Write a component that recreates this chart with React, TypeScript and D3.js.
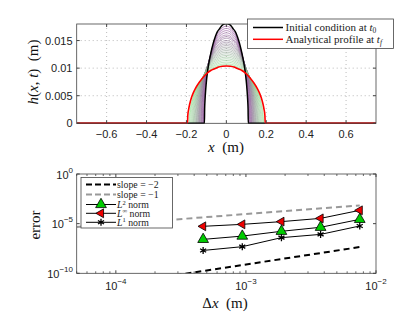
import React, { useRef, useEffect } from 'react';
import * as d3 from 'd3';

// ---- top panel: spreading profiles ----
// normalised profile shape (position / half-width, height / peak)
const shapeS = [-1, -0.99, -0.97, -0.94, -0.9, -0.85, -0.8, -0.7, -0.6, -0.5, -0.4, -0.3, -0.2, -0.1, 0,
  0.1, 0.2, 0.3, 0.4, 0.5, 0.6, 0.7, 0.8, 0.85, 0.9, 0.94, 0.97, 0.99, 1];
const shapeH = [0, 0.14, 0.24, 0.34, 0.44, 0.53, 0.6, 0.71, 0.8, 0.87, 0.92, 0.95, 0.98, 0.995, 1,
  0.995, 0.98, 0.95, 0.92, 0.87, 0.8, 0.71, 0.6, 0.53, 0.44, 0.34, 0.24, 0.14, 0];

const initialPeak = 0.0181;
const initialHalfWidth = 0.11;
const finalPeak = 0.0104;
const finalHalfWidth = 0.195;

// intermediate time steps
const stepPeaks = [0.0176, 0.0172, 0.0168, 0.0164, 0.016, 0.0157, 0.0154, 0.015, 0.0147, 0.0144, 0.0141,
  0.0138, 0.0135, 0.0132, 0.0129, 0.0126, 0.0123, 0.012, 0.0117, 0.0114, 0.0111, 0.0108, 0.0106];
const stepHalfWidths = [0.1125, 0.1151, 0.1179, 0.1207, 0.1238, 0.1261, 0.1286, 0.132, 0.1347, 0.1375, 0.1404,
  0.1435, 0.1467, 0.15, 0.1535, 0.1571, 0.161, 0.165, 0.1692, 0.1737, 0.1784, 0.1833, 0.1868];

const topXTicks = [-0.6, -0.4, -0.2, 0, 0.2, 0.4, 0.6];
const topYTicks = [0, 0.005, 0.01, 0.015];

// ---- bottom panel: convergence ----
const dx = [4.6875e-4, 9.375e-4, 1.875e-3, 3.75e-3, 7.5e-3];
const errLinf = [5.4e-6, 8.5e-6, 1.6e-5, 3.4e-5, 2.2e-4];
const errL2 = [2.6e-7, 5.6e-7, 1.7e-6, 4.3e-6, 2.7e-5];
const errL1 = [2.0e-8, 4.8e-8, 3.9e-7, 8.3e-7, 5.8e-6];
const refDx = [5e-5, 7.5e-3];
const refSlope2 = [1.9e-12, 4.4e-8];
const refSlope1 = [4.6e-6, 6.9e-4];
const botXTicks = [1e-4, 1e-3, 1e-2];
const botXTickExp = ['\u22124', '\u22123', '\u22122'];
const botYTicks = [1, 1e-5, 1e-10];
const botYTickExp = ['0', '\u22125', '\u221210'];

const W = 415;
const H = 318;
const serif = "'Liberation Serif', 'DejaVu Serif', serif";
const sans = "'Liberation Sans', Arial, sans-serif";

const App = () => {
  const ref = useRef(null);

  useEffect(() => {
    const svg = d3.select(ref.current);
    svg.selectAll('*').remove();

    // ================= top panel =================
    const x1 = d3.scaleLinear().domain([-0.75, 0.75]).range([76.7, 376]);
    const y1 = d3.scaleLinear().domain([0, 0.018]).range([123.3, 24]);
    const top = svg.append('g');

    svg.append('defs').append('clipPath').attr('id', 'clipTop')
      .append('rect').attr('x', 76.7).attr('y', 24).attr('width', 299.3).attr('height', 100);
    svg.select('defs').append('clipPath').attr('id', 'clipBot')
      .append('rect').attr('x', 76.7).attr('y', 174).attr('width', 299.3).attr('height', 99.3);

    top.append('rect').attr('x', 76.7).attr('y', 24).attr('width', 299.3).attr('height', 99.3)
      .attr('fill', '#fff');

    // dotted grid
    top.selectAll('.gx').data(topXTicks).enter().append('line')
      .attr('x1', (d) => x1(d)).attr('x2', (d) => x1(d)).attr('y1', 24).attr('y2', 123.3)
      .attr('stroke', '#aaa').attr('stroke-width', 0.8).attr('stroke-dasharray', '1,3');
    top.selectAll('.gy').data(topYTicks.slice(1)).enter().append('line')
      .attr('x1', 76.7).attr('x2', 376).attr('y1', (d) => y1(d)).attr('y2', (d) => y1(d))
      .attr('stroke', '#aaa').attr('stroke-width', 0.8).attr('stroke-dasharray', '1,3');

    const profile = (peak, hw, withBase) => {
      const pts = shapeS.map((s, i) => [s * hw, shapeH[i] * peak]);
      return withBase ? [[-0.75, 0], ...pts, [0.75, 0]] : pts;
    };
    const line1 = d3.line().x((d) => x1(d[0])).y((d) => y1(d[1])).curve(d3.curveMonotoneX);

    const curves = top.append('g').attr('clip-path', 'url(#clipTop)');
    const col = d3.interpolateRgb('#8a3a96', '#8ee08e');
    stepPeaks.forEach((p, i) => {
      curves.append('path').attr('d', line1(profile(p, stepHalfWidths[i], false)))
        .attr('fill', 'none').attr('stroke', col(i / (stepPeaks.length - 1)))
        .attr('stroke-opacity', 0.7).attr('stroke-width', 0.8);
    });
    curves.append('path').attr('d', line1(profile(initialPeak, initialHalfWidth, true)))
      .attr('fill', 'none').attr('stroke', '#000').attr('stroke-width', 1.5);
    curves.append('path').attr('d', line1(profile(finalPeak, finalHalfWidth, true)))
      .attr('fill', 'none').attr('stroke', '#f00').attr('stroke-width', 1.6);

    // box and ticks
    top.append('rect').attr('x', 76.7).attr('y', 24).attr('width', 299.3).attr('height', 99.3)
      .attr('fill', 'none').attr('stroke', '#444').attr('stroke-width', 0.8);
    topXTicks.forEach((t) => {
      top.append('line').attr('x1', x1(t)).attr('x2', x1(t)).attr('y1', 123.3).attr('y2', 120.3).attr('stroke', '#444');
      top.append('line').attr('x1', x1(t)).attr('x2', x1(t)).attr('y1', 24).attr('y2', 27).attr('stroke', '#444');
      top.append('text').attr('x', x1(t)).attr('y', 138).attr('text-anchor', 'middle')
        .attr('font-family', sans).attr('font-size', 11).attr('fill', '#222')
        .text(t === 0 ? '0' : d3.format('.1f')(t).replace('-', '\u2212'));
    });
    topYTicks.forEach((t) => {
      top.append('line').attr('x1', 76.7).attr('x2', 79.7).attr('y1', y1(t)).attr('y2', y1(t)).attr('stroke', '#444');
      top.append('line').attr('x1', 376).attr('x2', 373).attr('y1', y1(t)).attr('y2', y1(t)).attr('stroke', '#444');
      top.append('text').attr('x', 72.5).attr('y', y1(t) + 4).attr('text-anchor', 'end')
        .attr('font-family', sans).attr('font-size', 11).attr('fill', '#222')
        .text(t === 0 ? '0' : String(t));
    });

    // axis labels
    const yl = top.append('text').attr('transform', 'translate(38,72) rotate(-90)')
      .attr('text-anchor', 'middle').attr('font-family', serif).attr('font-size', 15).attr('fill', '#111');
    yl.append('tspan').attr('font-style', 'italic').text('h');
    yl.append('tspan').text('(');
    yl.append('tspan').attr('font-style', 'italic').text('x');
    yl.append('tspan').text(', ');
    yl.append('tspan').attr('font-style', 'italic').text('t');
    yl.append('tspan').text(')\u2002(m)');
    const xl = top.append('text').attr('x', 226).attr('y', 152).attr('text-anchor', 'middle')
      .attr('font-family', serif).attr('font-size', 15).attr('fill', '#111');
    xl.append('tspan').attr('font-style', 'italic').text('x');
    xl.append('tspan').text('\u2002(m)');

    // legend
    const lg = top.append('g');
    lg.append('rect').attr('x', 247.5).attr('y', 19).attr('width', 146).attr('height', 29.5)
      .attr('fill', '#fff').attr('stroke', '#444').attr('stroke-width', 0.8);
    [['#000', 'Initial condition at ', '0'], ['#f00', 'Analytical profile at ', 'f']].forEach((r, i) => {
      const yy = 27.5 + i * 11.8;
      lg.append('line').attr('x1', 253).attr('x2', 283).attr('y1', yy).attr('y2', yy)
        .attr('stroke', r[0]).attr('stroke-width', 1.5);
      const tx = lg.append('text').attr('x', 285.5).attr('y', yy + 3.6)
        .attr('font-family', serif).attr('font-size', 11).attr('fill', '#222');
      tx.append('tspan').text(r[1]);
      tx.append('tspan').attr('font-style', 'italic').text('t');
      tx.append('tspan').attr('font-size', 7.5).attr('dy', 2).attr('font-style', r[2] === 'f' ? 'italic' : 'normal').text(r[2]);
    });

    // ================= bottom panel =================
    const x2 = d3.scaleLog().domain([5e-5, 1e-2]).range([76.7, 376]);
    const y2 = d3.scaleLog().domain([1e-10, 1]).range([273.3, 174]);
    const bot = svg.append('g');
    const plot = bot.append('g').attr('clip-path', 'url(#clipBot)');
    const line2 = d3.line().x((d) => x2(d[0])).y((d) => y2(d[1]));

    plot.append('path').attr('d', line2(refDx.map((d, i) => [d, refSlope2[i]])))
      .attr('fill', 'none').attr('stroke', '#000').attr('stroke-width', 2).attr('stroke-dasharray', '6,4');
    plot.append('path').attr('d', line2(refDx.map((d, i) => [d, refSlope1[i]])))
      .attr('fill', 'none').attr('stroke', '#999').attr('stroke-width', 2).attr('stroke-dasharray', '6,4');

    const series = [
      { v: errLinf, sym: d3.symbolTriangle, rot: -90, fill: '#e00', size: 34 },
      { v: errL2, sym: d3.symbolTriangle, rot: 0, fill: '#0c0', size: 50 },
      { v: errL1, sym: d3.symbolAsterisk, rot: 0, fill: 'none', size: 34 },
    ];
    series.forEach((s) => {
      const pts = dx.map((d, i) => [d, s.v[i]]);
      plot.append('path').attr('d', line2(pts)).attr('fill', 'none').attr('stroke', '#000').attr('stroke-width', 1);
      plot.selectAll(null).data(pts).enter().append('path')
        .attr('d', d3.symbol().type(s.sym).size(s.size))
        .attr('transform', (d) => `translate(${x2(d[0])},${y2(d[1])}) rotate(${s.rot})`)
        .attr('fill', s.fill).attr('stroke', '#000').attr('stroke-width', s.fill === 'none' ? 1.3 : 0.8);
    });

    bot.append('rect').attr('x', 76.7).attr('y', 174).attr('width', 299.3).attr('height', 99.3)
      .attr('fill', 'none').attr('stroke', '#444').attr('stroke-width', 0.8);

    // log x ticks: majors and minors
    const minor = [];
    [1e-5, 1e-4, 1e-3].forEach((dec) => {
      for (let k = 2; k <= 9; k++) {
        const v = k * dec;
        if (v >= 5e-5 && v <= 1e-2) minor.push(v);
      }
    });
    minor.forEach((t) => {
      bot.append('line').attr('x1', x2(t)).attr('x2', x2(t)).attr('y1', 273.3).attr('y2', 271.3).attr('stroke', '#444').attr('stroke-width', 0.8);
      bot.append('line').attr('x1', x2(t)).attr('x2', x2(t)).attr('y1', 174).attr('y2', 176).attr('stroke', '#444').attr('stroke-width', 0.8);
    });
    botXTicks.forEach((t, i) => {
      bot.append('line').attr('x1', x2(t)).attr('x2', x2(t)).attr('y1', 273.3).attr('y2', 270.3).attr('stroke', '#444');
      bot.append('line').attr('x1', x2(t)).attr('x2', x2(t)).attr('y1', 174).attr('y2', 177).attr('stroke', '#444');
      const tx = bot.append('text').attr('x', x2(t)).attr('y', 290).attr('text-anchor', 'middle')
        .attr('font-family', sans).attr('font-size', 11).attr('fill', '#222');
      tx.append('tspan').text('10');
      tx.append('tspan').attr('font-size', 8).attr('dy', -6).text(botXTickExp[i]);
    });
    botYTicks.forEach((t, i) => {
      bot.append('line').attr('x1', 76.7).attr('x2', 79.7).attr('y1', y2(t)).attr('y2', y2(t)).attr('stroke', '#444');
      bot.append('line').attr('x1', 376).attr('x2', 373).attr('y1', y2(t)).attr('y2', y2(t)).attr('stroke', '#444');
      const tx = bot.append('text').attr('x', 73).attr('y', y2(t) + 4.5).attr('text-anchor', 'end')
        .attr('font-family', sans).attr('font-size', 11).attr('fill', '#222');
      tx.append('tspan').text('10');
      tx.append('tspan').attr('font-size', 8).attr('dy', -6).text(botYTickExp[i]);
    });

    bot.append('text').attr('transform', 'translate(40,225) rotate(-90)').attr('text-anchor', 'middle')
      .attr('font-family', serif).attr('font-size', 15).attr('fill', '#111').text('error');
    const dl = bot.append('text').attr('x', 225).attr('y', 308).attr('text-anchor', 'middle')
      .attr('font-family', serif).attr('font-size', 15).attr('fill', '#111');
    dl.append('tspan').text('\u0394');
    dl.append('tspan').attr('font-style', 'italic').text('x');
    dl.append('tspan').text('\u2002(m)');

    // legend
    const bl = bot.append('g');
    bl.append('rect').attr('x', 81).attr('y', 177.5).attr('width', 91.5).attr('height', 50.5)
      .attr('fill', '#fff').attr('stroke', '#444').attr('stroke-width', 0.8);
    const rows = [184.5, 194.5, 204.5, 213.3, 222.3];
    bl.append('line').attr('x1', 86).attr('x2', 116).attr('y1', rows[0]).attr('y2', rows[0])
      .attr('stroke', '#000').attr('stroke-width', 2).attr('stroke-dasharray', '6,3');
    bl.append('line').attr('x1', 86).attr('x2', 116).attr('y1', rows[1]).attr('y2', rows[1])
      .attr('stroke', '#999').attr('stroke-width', 2).attr('stroke-dasharray', '6,3');
    const legSeries = [series[1], series[0], series[2]];
    legSeries.forEach((s, i) => {
      const yy = rows[2 + i];
      bl.append('line').attr('x1', 86).attr('x2', 116).attr('y1', yy).attr('y2', yy).attr('stroke', '#000').attr('stroke-width', 1);
      bl.append('path').attr('d', d3.symbol().type(s.sym).size(s.size)())
        .attr('transform', `translate(101,${yy}) rotate(${s.rot})`)
        .attr('fill', s.fill).attr('stroke', '#000').attr('stroke-width', s.fill === 'none' ? 1.3 : 0.8);
    });
    const legTxt = (yy, parts) => {
      const t = bl.append('text').attr('x', 117).attr('y', yy + 3.2)
        .attr('font-family', serif).attr('font-size', 9.8).attr('fill', '#222');
      parts.forEach((p) => {
        const ts = t.append('tspan').text(p.t);
        if (p.it) ts.attr('font-style', 'italic');
        if (p.sup) ts.attr('font-size', 6.5).attr('dy', -3.2);
        if (p.down) ts.attr('dy', 3.2);
      });
    };
    legTxt(rows[0], [{ t: 'slope = \u22122' }]);
    legTxt(rows[1], [{ t: 'slope = \u22121' }]);
    legTxt(rows[2], [{ t: 'L', it: true }, { t: '2', sup: true }, { t: ' norm', down: true }]);
    legTxt(rows[3], [{ t: 'L', it: true }, { t: '\u221E', sup: true }, { t: ' norm', down: true }]);
    legTxt(rows[4], [{ t: 'L', it: true }, { t: '1', sup: true }, { t: ' norm', down: true }]);

    return () => {
      svg.selectAll('*').remove();
    };
  }, []);

  return (
    <svg ref={ref} width={W} height={H} style={{ position: 'absolute', left: 0, top: 0, background: '#fff' }} />
  );
};

export default App;
